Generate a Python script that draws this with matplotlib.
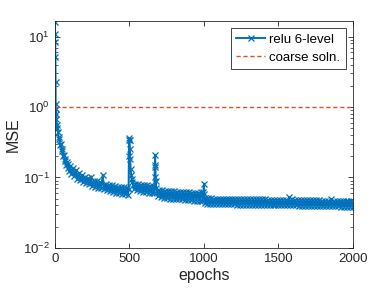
import matplotlib
matplotlib.use("Agg")
import matplotlib.pyplot as plt
from matplotlib.ticker import LogLocator, FixedLocator, NullFormatter

plt.rcParams["font.family"] = ["Liberation Sans", "DejaVu Sans"]
plt.rcParams["mathtext.default"] = "regular"

# MSE; the zigzag follows the upper / lower edge of the noisy band
ep_start = [0, 1, 2, 3, 4, 5, 6, 8, 10, 13, 16, 20, 25, 30, 35, 40, 45, 50, 55, 60,
            65, 70, 75, 80, 85, 90, 95]
mse_start = [16.3, 11.0, 8.3, 5.1, 2.3, 1.1, 0.95, 0.80, 0.68, 0.56, 0.50, 0.44, 0.38,
             0.35, 0.29, 0.30, 0.24, 0.25, 0.20, 0.21, 0.17, 0.185, 0.15, 0.165, 0.135,
             0.155, 0.125]

ep_first = [100, 110, 120, 130, 140, 150, 160, 170, 180, 190, 200, 210, 220, 230, 240,
            250, 260, 270, 280, 290, 300, 310, 320, 330, 340, 350, 360, 370, 380, 390,
            400, 410, 420, 430, 440, 450, 460, 470, 480, 490]
mse_first = [0.145, 0.113, 0.138, 0.106, 0.128, 0.096, 0.116, 0.091, 0.108, 0.086,
             0.101, 0.083, 0.097, 0.080, 0.100, 0.076, 0.090, 0.074, 0.088, 0.071,
             0.085, 0.070, 0.108, 0.069, 0.081, 0.066, 0.079, 0.064, 0.077, 0.063,
             0.075, 0.061, 0.074, 0.060, 0.073, 0.059, 0.072, 0.058, 0.071, 0.057]

ep_mid = [494, 496, 497, 499, 501, 503, 505, 508, 512, 516, 520, 530, 540, 550, 560,
          570, 580, 590, 600, 610, 620, 630, 640, 650, 660, 666, 668, 670, 672, 674,
          676, 680, 690, 700, 710, 720, 730, 740, 750, 760, 770, 780, 790, 800, 810,
          820, 830, 840, 850, 860, 870, 880, 890, 900, 910, 920, 930, 940, 950, 960,
          970, 980, 990, 996, 1000, 1003, 1006, 1010]
mse_mid = [0.068, 0.20, 0.34, 0.36, 0.34, 0.25, 0.18, 0.13, 0.11, 0.095, 0.085, 0.068,
           0.082, 0.066, 0.080, 0.064, 0.079, 0.063, 0.078, 0.062, 0.077, 0.061, 0.076,
           0.060, 0.075, 0.060, 0.10, 0.15, 0.21, 0.14, 0.09, 0.070, 0.055, 0.066,
           0.052, 0.066, 0.051, 0.065, 0.051, 0.065, 0.050, 0.064, 0.050, 0.064, 0.049,
           0.063, 0.049, 0.063, 0.049, 0.062, 0.048, 0.062, 0.048, 0.062, 0.048, 0.061,
           0.047, 0.061, 0.047, 0.061, 0.047, 0.062, 0.047, 0.062, 0.082, 0.058, 0.044,
           0.051]

ep_late = [1020, 1030, 1040, 1050, 1060, 1070, 1080, 1090, 1100, 1110,
           1120, 1130, 1140, 1150, 1160, 1170, 1180, 1190, 1200, 1210,
           1220, 1230, 1240, 1250, 1260, 1270, 1280, 1290, 1300, 1310,
           1320, 1330, 1340, 1350, 1360, 1370, 1380, 1390, 1400, 1410,
           1420, 1430, 1440, 1450, 1460, 1470, 1480, 1490, 1500, 1510,
           1520, 1530, 1540, 1550, 1560, 1570, 1580, 1590, 1600, 1610,
           1620, 1630, 1640, 1650, 1660, 1670, 1680, 1690, 1700, 1710,
           1720, 1730, 1740, 1750, 1760, 1770, 1780, 1790, 1800, 1810,
           1820, 1830, 1840, 1850, 1860, 1870, 1880, 1890, 1900, 1910,
           1920, 1930, 1940, 1950, 1960, 1970, 1980, 1990, 2000]
mse_late = [0.042, 0.051, 0.042, 0.051, 0.042, 0.050, 0.042, 0.050, 0.042, 0.050,
            0.042, 0.050, 0.0415, 0.050, 0.0415, 0.050, 0.0415, 0.050, 0.0415, 0.049,
            0.041, 0.049, 0.041, 0.049, 0.041, 0.049, 0.041, 0.049, 0.041, 0.049,
            0.041, 0.049, 0.0405, 0.049, 0.0405, 0.049, 0.0405, 0.049, 0.0405, 0.049,
            0.0405, 0.048, 0.0405, 0.048, 0.040, 0.048, 0.040, 0.048, 0.040, 0.048,
            0.040, 0.048, 0.040, 0.048, 0.040, 0.053, 0.040, 0.049, 0.040, 0.048,
            0.040, 0.048, 0.0395, 0.048, 0.0395, 0.048, 0.0395, 0.048, 0.0395, 0.048,
            0.0395, 0.048, 0.0395, 0.048, 0.039, 0.048, 0.039, 0.047, 0.039, 0.047,
            0.039, 0.047, 0.039, 0.050, 0.039, 0.047, 0.039, 0.047, 0.039, 0.047,
            0.0385, 0.047, 0.0385, 0.047, 0.0385, 0.047, 0.0385, 0.047, 0.0385]

epochs = ep_start + ep_first + ep_mid + ep_late
mse = mse_start + mse_first + mse_mid + mse_late

coarse_x = [0, 2000]
coarse_y = [1.0, 1.0]

fig = plt.figure(figsize=(3.9, 2.93), dpi=100)
ax = fig.add_axes([0.141, 0.154, 0.764, 0.774])

ax.semilogy(epochs, mse, "-x", color="#0072BD", lw=1.4, ms=4.2, mew=0.9,
            label="relu 6-level")
ax.semilogy(coarse_x, coarse_y, color="#D95319", lw=1.0, dashes=(3, 2),
            label="coarse soln.")

ax.set_xlim(0, 2000)
ax.set_ylim(1e-2, 16.6)
ax.xaxis.set_major_locator(FixedLocator([0, 500, 1000, 1500, 2000]))
ax.yaxis.set_major_locator(LogLocator(base=10, numticks=10))
ax.yaxis.set_minor_locator(LogLocator(base=10, subs=range(2, 10), numticks=10))
ax.yaxis.set_minor_formatter(NullFormatter())

ax.tick_params(which="both", direction="in", top=True, right=True,
               colors="#262626", labelsize=9.5)
ax.tick_params(which="major", length=3.5, width=0.6)
ax.tick_params(which="minor", length=2, width=0.5)
for s in ax.spines.values():
    s.set_color("#262626")
    s.set_linewidth(0.6)

ax.set_xlabel("epochs", fontsize=11.5, color="#262626", labelpad=2)
ax.set_ylabel("MSE", fontsize=11.5, color="#262626", labelpad=2)

leg = ax.legend(loc="upper right", fontsize=9.5, fancybox=False, framealpha=1,
                edgecolor="#262626", borderaxespad=0.55, handlelength=2.2,
                handletextpad=0.3, borderpad=0.4, labelspacing=0.45)
leg.get_frame().set_linewidth(0.6)

fig.savefig("out.png", dpi=100)
